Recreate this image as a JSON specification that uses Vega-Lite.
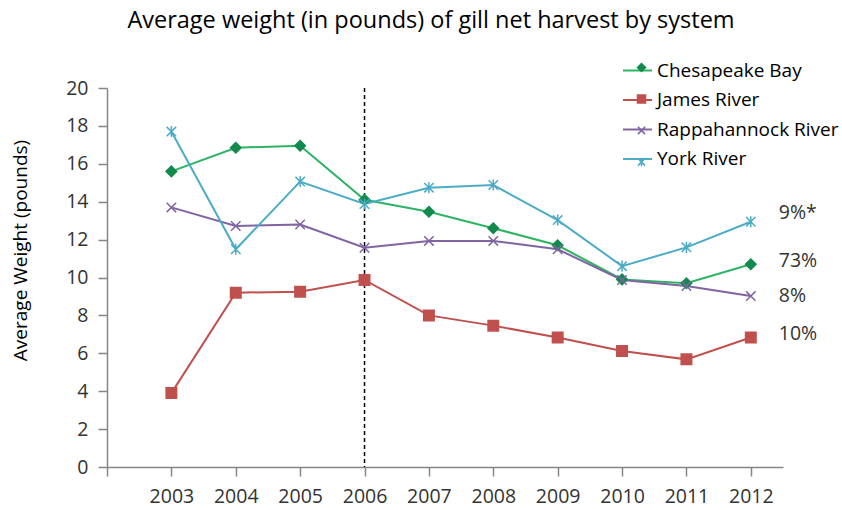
{
  "$schema": "https://vega.github.io/schema/vega-lite/v6.json",
  "width": 676,
  "height": 379,
  "autosize": {"type": "none"},
  "padding": {"left": 107, "top": 88, "right": 59, "bottom": 43},
  "background": "white",
  "config": {
    "view": {"stroke": null},
    "font": "Open Sans",
    "axis": {
      "grid": false,
      "domainColor": "#868686",
      "domainWidth": 1.5,
      "tickColor": "#868686",
      "tickWidth": 1.5,
      "tickSize": 9,
      "labelFont": "Open Sans",
      "labelFontSize": 19.5,
      "labelColor": "#333333",
      "labelOverlap": false,
      "titleFont": "Open Sans",
      "titleFontSize": 19,
      "titleFontWeight": "normal",
      "titleColor": "#000000"
    }
  },
  "title": {
    "text": "Average weight (in  pounds)  of gill  net harvest by system",
    "font": "Open Sans",
    "fontSize": 23.5,
    "fontWeight": "normal",
    "color": "#000000",
    "anchor": "middle",
    "frame": "group",
    "dx": -14,
    "offset": 23
  },
  "datasets": {
    "weights": [
      {"year": 2003, "series": "Chesapeake Bay", "value": 15.6},
      {"year": 2004, "series": "Chesapeake Bay", "value": 16.85},
      {"year": 2005, "series": "Chesapeake Bay", "value": 16.95},
      {"year": 2006, "series": "Chesapeake Bay", "value": 14.1},
      {"year": 2007, "series": "Chesapeake Bay", "value": 13.47},
      {"year": 2008, "series": "Chesapeake Bay", "value": 12.6},
      {"year": 2009, "series": "Chesapeake Bay", "value": 11.7},
      {"year": 2010, "series": "Chesapeake Bay", "value": 9.9},
      {"year": 2011, "series": "Chesapeake Bay", "value": 9.7},
      {"year": 2012, "series": "Chesapeake Bay", "value": 10.7},
      {"year": 2003, "series": "James River", "value": 3.9},
      {"year": 2004, "series": "James River", "value": 9.2},
      {"year": 2005, "series": "James River", "value": 9.25},
      {"year": 2006, "series": "James River", "value": 9.87},
      {"year": 2007, "series": "James River", "value": 8.0},
      {"year": 2008, "series": "James River", "value": 7.46},
      {"year": 2009, "series": "James River", "value": 6.83},
      {"year": 2010, "series": "James River", "value": 6.12},
      {"year": 2011, "series": "James River", "value": 5.68},
      {"year": 2012, "series": "James River", "value": 6.83},
      {"year": 2003, "series": "Rappahannock River", "value": 13.7},
      {"year": 2004, "series": "Rappahannock River", "value": 12.72},
      {"year": 2005, "series": "Rappahannock River", "value": 12.8},
      {"year": 2006, "series": "Rappahannock River", "value": 11.57},
      {"year": 2007, "series": "Rappahannock River", "value": 11.93},
      {"year": 2008, "series": "Rappahannock River", "value": 11.93},
      {"year": 2009, "series": "Rappahannock River", "value": 11.49},
      {"year": 2010, "series": "Rappahannock River", "value": 9.87},
      {"year": 2011, "series": "Rappahannock River", "value": 9.55},
      {"year": 2012, "series": "Rappahannock River", "value": 9.02},
      {"year": 2003, "series": "York River", "value": 17.7},
      {"year": 2004, "series": "York River", "value": 11.49},
      {"year": 2005, "series": "York River", "value": 15.06},
      {"year": 2006, "series": "York River", "value": 13.88},
      {"year": 2007, "series": "York River", "value": 14.74},
      {"year": 2008, "series": "York River", "value": 14.88},
      {"year": 2009, "series": "York River", "value": 13.03},
      {"year": 2010, "series": "York River", "value": 10.6},
      {"year": 2011, "series": "York River", "value": 11.59},
      {"year": 2012, "series": "York River", "value": 12.94}
    ],
    "labels": [
      {"year": 2012, "series": "York River", "value": 13.4, "label": "9%*"},
      {"year": 2012, "series": "Chesapeake Bay", "value": 10.87, "label": "73%"},
      {"year": 2012, "series": "Rappahannock River", "value": 9.02, "label": "8%"},
      {"year": 2012, "series": "James River", "value": 7.02, "label": "10%"}
    ],
    "divider": [{"year": 2006}]
  },
  "layer": [
    {
      "data": {"name": "divider"},
      "mark": {"type": "rule", "color": "#000000", "strokeWidth": 1.5, "strokeDash": [4, 3]},
      "encoding": {
        "x": {
          "field": "year", "type": "quantitative",
          "scale": {"domain": [2002, 2012.5], "nice": false, "zero": false},
          "axis": {"title": null, "values": [2002, 2003, 2004, 2005, 2006, 2007, 2008, 2009, 2010, 2011, 2012], "format": "d", "labelExpr": "datum.value == 2002 ? '' : datum.label", "labelPadding": 11}
        }
      }
    },
    {
      "data": {"name": "weights"},
      "mark": {"type": "line", "strokeWidth": 2},
      "encoding": {
        "x": {
          "field": "year", "type": "quantitative",
          "scale": {"domain": [2002, 2012.5], "nice": false, "zero": false},
          "axis": {"title": null, "values": [2002, 2003, 2004, 2005, 2006, 2007, 2008, 2009, 2010, 2011, 2012], "format": "d", "labelExpr": "datum.value == 2002 ? '' : datum.label", "labelPadding": 11}
        },
        "y": {
          "field": "value", "type": "quantitative",
          "scale": {"domain": [0, 20], "nice": false},
          "axis": {"title": "Average Weight (pounds)", "values": [0, 2, 4, 6, 8, 10, 12, 14, 16, 18, 20], "labelPadding": 10, "titleX": -77, "titleY": 162}
        },
        "color": {
          "field": "series",
          "type": "nominal",
          "scale": {
            "domain": ["Chesapeake Bay", "James River", "Rappahannock River", "York River"],
            "range": ["#2db463", "#c0504d", "#8064a2", "#4bacc6"]
          },
          "legend": {
            "orient": "none",
            "legendX": 515,
            "legendY": -33,
            "title": null,
            "padding": 0,
            "rowPadding": 3.5,
            "gridAlign": "all",
            "symbolType": "stroke",
            "symbolSize": 841,
            "symbolStrokeWidth": 2,
            "labelOffset": 4,
            "labelLimit": 400,
            "labelFont": "Open Sans",
            "labelFontSize": 19,
            "labelColor": "#000000"
          }
        }
      }
    },
    {
      "data": {"name": "weights"},
      "mark": {"type": "point", "filled": false, "opacity": 1, "strokeWidth": 1.5, "size": 110},
      "encoding": {
        "x": {"field": "year", "type": "quantitative", "scale": {"domain": [2002, 2012.5], "nice": false, "zero": false}, "axis": {"title": null, "values": [2002, 2003, 2004, 2005, 2006, 2007, 2008, 2009, 2010, 2011, 2012], "format": "d", "labelExpr": "datum.value == 2002 ? '' : datum.label", "labelPadding": 11}},
        "y": {"field": "value", "type": "quantitative", "scale": {"domain": [0, 20], "nice": false}, "axis": {"title": "Average Weight (pounds)", "values": [0, 2, 4, 6, 8, 10, 12, 14, 16, 18, 20], "labelPadding": 10, "titleX": -77, "titleY": 162}},
        "shape": {
          "field": "series",
          "type": "nominal",
          "scale": {
            "domain": ["Chesapeake Bay", "James River", "Rappahannock River", "York River", " "],
            "range": ["diamond", "square", "M-0.9,-0.9L0.9,0.9M0.9,-0.9L-0.9,0.9", "M-0.9,-0.9L0.9,0.9M0.9,-0.9L-0.9,0.9M0,-1.05V1.05", "circle"]
          },
          "legend": {"orient": "none", "legendX": 525, "legendY": -30, "title": null, "padding": 0, "rowPadding": 11.5, "gridAlign": "all", "values": ["Chesapeake Bay", "James River", "Rappahannock River", "York River"], "labelExpr": "' '", "labelFontSize": 19, "symbolSize": 64, "symbolStrokeWidth": 1.5, "symbolOpacity": 1}
        },
        "stroke": {
          "field": "series",
          "type": "nominal",
          "scale": {
            "domain": ["Chesapeake Bay", "James River", "Rappahannock River", "York River", " "],
            "range": ["#128a4e", "#c0504d", "#8064a2", "#4bacc6", "#000000"]
          },
          "legend": {"orient": "none", "legendX": 525, "legendY": -30, "title": null, "padding": 0, "rowPadding": 11.5, "gridAlign": "all", "values": ["Chesapeake Bay", "James River", "Rappahannock River", "York River"], "labelExpr": "' '", "labelFontSize": 19, "symbolSize": 64, "symbolStrokeWidth": 1.5, "symbolOpacity": 1}
        },
        "fill": {
          "field": "series",
          "type": "nominal",
          "scale": {
            "domain": ["Chesapeake Bay", "James River", "Rappahannock River", "York River", " "],
            "range": ["#128a4e", "#c0504d", "#8064a2", "#4bacc6", "#000000"]
          },
          "legend": {"orient": "none", "legendX": 525, "legendY": -30, "title": null, "padding": 0, "rowPadding": 11.5, "gridAlign": "all", "values": ["Chesapeake Bay", "James River", "Rappahannock River", "York River"], "labelExpr": "' '", "labelFontSize": 19, "symbolSize": 64, "symbolStrokeWidth": 1.5, "symbolOpacity": 1}
        }
      }
    },
    {
      "data": {"name": "labels"},
      "mark": {"type": "text", "align": "left", "baseline": "middle", "dx": 28, "fontSize": 19.5, "font": "Open Sans", "color": "#333333"},
      "encoding": {
        "x": {"field": "year", "type": "quantitative", "scale": {"domain": [2002, 2012.5], "nice": false, "zero": false}, "axis": {"title": null, "values": [2002, 2003, 2004, 2005, 2006, 2007, 2008, 2009, 2010, 2011, 2012], "format": "d", "labelExpr": "datum.value == 2002 ? '' : datum.label", "labelPadding": 11}},
        "y": {"field": "value", "type": "quantitative", "scale": {"domain": [0, 20], "nice": false}, "axis": {"title": "Average Weight (pounds)", "values": [0, 2, 4, 6, 8, 10, 12, 14, 16, 18, 20], "labelPadding": 10, "titleX": -77, "titleY": 162}},
        "text": {"field": "label", "type": "nominal"}
      }
    }
  ]
}
